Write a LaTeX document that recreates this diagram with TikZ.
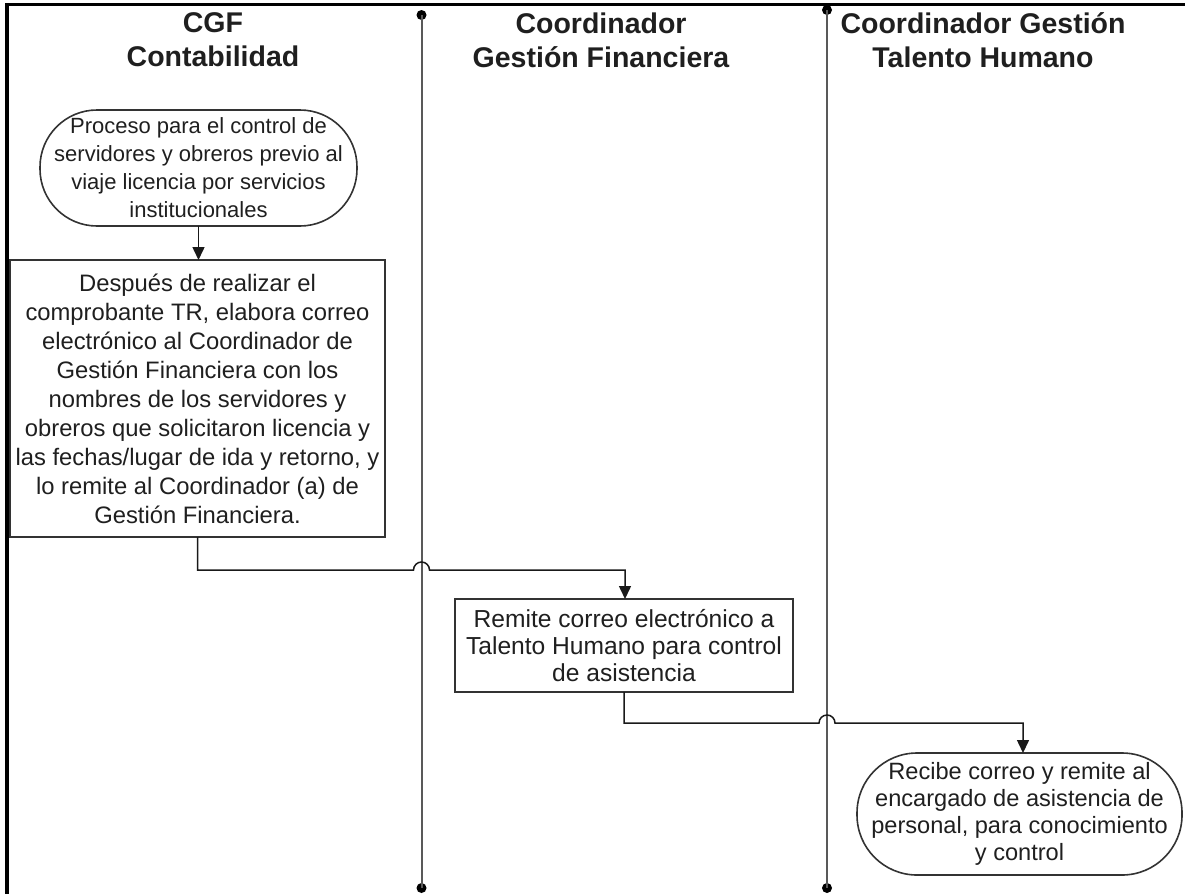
\documentclass[tikz,border=0pt]{standalone}
\usepackage{fontspec}
\setmainfont{Liberation Sans}
\usetikzlibrary{arrows.meta}
\begin{document}
\begin{tikzpicture}[x=1pt,y=-1pt,
  every node/.style={inner sep=0pt, outer sep=0pt},
  lanehead/.style={font=\fontsize{28.5}{34}\selectfont\bfseries, align=center, text=black!88},
  body/.style={font=\fontsize{23.8}{29}\selectfont, align=center, text=black!88},
  stepbox/.style={body, draw=black!80, line width=1.8pt, rectangle},
  term/.style={body, draw=black!80, line width=1.6pt, rectangle},
  divider/.style={draw=black!65, line width=2pt},
  dotend/.style={circle, fill=black, minimum size=10pt},
  flow/.style={draw=black!90, line width=1.5pt, -{Triangle[length=13pt,width=12pt]}},
  frameline/.style={draw=black, line width=3.5pt, line join=miter}]

\useasboundingbox (0,0) rectangle (1185,894);

% frame
\draw[frameline] (1185,4.5) -- (7,4.5) -- (7,894);

% lane dividers
\node[dotend] (d1top) at (421.5,15) {};
\node[dotend] (d1bot) at (421.5,888) {};
\node[dotend] (d2top) at (827,10) {};
\node[dotend] (d2bot) at (827,888) {};
\draw[divider] (d1top.center) -- (d1bot.center);
\draw[divider] (d2top.center) -- (d2bot.center);

% headers
\node[lanehead] (h1) at (213,40) {CGF\\Contabilidad};
\node[lanehead] (h2) at (601,40) {Coordinador\\Gestión Financiera};
\node[lanehead] (h3) at (983,40) {Coordinador Gestión\\Talento Humano};

% shapes
\node[term, rounded corners=57pt, minimum width=317pt, minimum height=116pt,
      font=\fontsize{22}{28}\selectfont] (start) at (198.5,168)
  {Proceso para el control de\\servidores y obreros previo al\\viaje licencia por servicios\\institucionales};

\node[stepbox, minimum width=375pt, minimum height=277pt] (box1) at (197.5,398.5)
  {Después de realizar el\\comprobante TR, elabora correo\\electrónico al Coordinador de\\Gestión Financiera con los\\nombres de los servidores y\\obreros que solicitaron licencia y\\las fechas/lugar de ida y retorno, y\\lo remite al Coordinador (a) de\\Gestión Financiera.};

\node[stepbox, minimum width=338pt, minimum height=93pt,
      font=\fontsize{24.6}{27}\selectfont] (box2) at (624,645.5)
  {Remite correo electrónico a\\Talento Humano para control\\de asistencia};

\node[term, rounded corners=60pt, minimum width=325pt, minimum height=122pt,
      font=\fontsize{23.6}{27}\selectfont] (fin) at (1019.5,814)
  {Recibe correo y remite al\\encargado de asistencia de\\personal, para conocimiento\\y control};

% connectors
\draw[flow] (start.south) -- (start.south |- box1.north);

\coordinate (j1) at (421.5,570);
\coordinate (a1) at (625,570);
\draw[flow] (box1.south) |- ([xshift=-8pt]j1) arc[start angle=180, end angle=0, radius=8pt] -- (a1) -- (a1 |- box2.north);

\coordinate (j2) at (827,723);
\coordinate (a2) at (1023,723);
\draw[flow] (box2.south) |- ([xshift=-8pt]j2) arc[start angle=180, end angle=0, radius=8pt] -- (a2) -- (a2 |- fin.north);

\end{tikzpicture}
\end{document}
